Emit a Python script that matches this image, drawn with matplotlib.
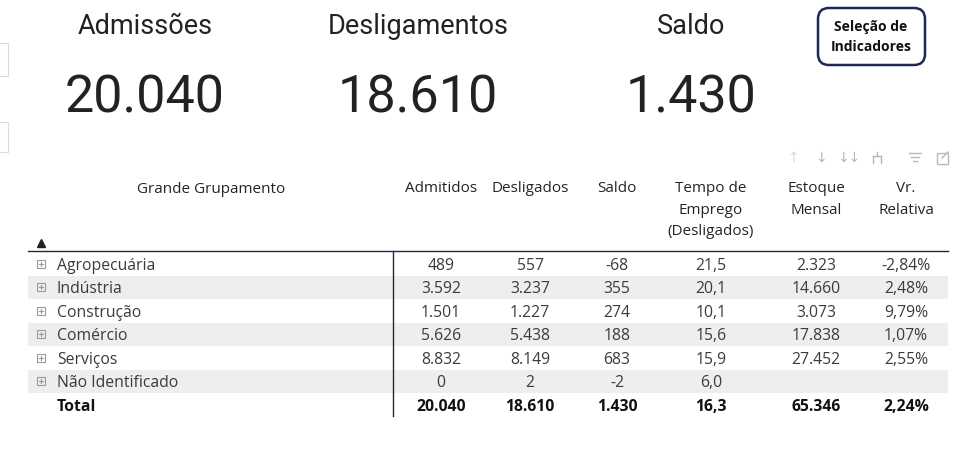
import matplotlib
matplotlib.use("Agg")
import matplotlib.pyplot as plt
import matplotlib.patches as patches

# card values
card_titles = ["Admissões", "Desligamentos", "Saldo"]
card_values = [20040, 18610, 1430]

# table data
categories = ["Agropecuária", "Indústria", "Construção", "Comércio", "Serviços", "Não Identificado"]
admitidos = [489, 3592, 1501, 5626, 8832, 0]
desligados = [557, 3237, 1227, 5438, 8149, 2]
saldo = [-68, 355, 274, 188, 683, -2]
tempo = [21.5, 20.1, 10.1, 15.6, 15.9, 6.0]
estoque = [2323, 14660, 3073, 17838, 27452, None]
vr_relativa = [-2.84, 2.48, 9.79, 1.07, 2.55, None]
totals = [20040, 18610, 1430, 16.3, 65346, 2.24]
headers = ["Admitidos", "Desligados", "Saldo", "Tempo de\nEmprego\n(Desligados)", "Estoque\nMensal", "Vr.\nRelativa"]


def fmt_int(v):
    if v is None:
        return ""
    return f"{v:,}".replace(",", ".")


def fmt_dec(v):
    if v is None:
        return ""
    return f"{v:.1f}".replace(".", ",")


def fmt_pct(v):
    if v is None:
        return ""
    return f"{v:.2f}".replace(".", ",") + "%"


W, H = 973, 461
fig = plt.figure(figsize=(W / 100, H / 100), dpi=100)
ax = fig.add_axes([0, 0, 1, 1])
ax.set_xlim(0, W)
ax.set_ylim(H, 0)
ax.axis("off")

card_font = ["Roboto", "DejaVu Sans"]
tab_font = ["Open Sans", "DejaVu Sans"]
txt_col = "#252423"
val_col = "#3b3b3b"
navy = "#1f2850"

# left slicer fragments
for y0, y1 in [(43, 76), (122, 152)]:
    ax.add_patch(patches.Rectangle((-4, y0), 12, y1 - y0, fill=False, ec="#dcdcdc", lw=0.8))

# cards
card_x = [145, 418, 691]
for x, t, v in zip(card_x, card_titles, card_values):
    ax.text(x, 26, t, ha="center", va="center", fontsize=19.5, family=card_font, color="#222222")
    ax.text(x, 98, fmt_int(v), ha="center", va="center", fontsize=37.5, family=card_font, color="#222222")

# button
btn = patches.FancyBboxPatch((818, 8), 107, 57, boxstyle="round,pad=0,rounding_size=11",
                             fc="white", ec=navy, lw=1.8)
ax.add_patch(btn)
ax.text(871, 27, "Seleção de", ha="center", va="center", fontsize=10, weight="bold",
        family=tab_font, color="#111111")
ax.text(871, 47, "Indicadores", ha="center", va="center", fontsize=10, weight="bold",
        family=tab_font, color="#111111")

# visual header icons
ic = "#b8b8b8"
ax.text(793, 158, "↑", ha="center", va="center", fontsize=10, color="#d6d6d6", family="DejaVu Sans")
ax.text(821, 158, "↓", ha="center", va="center", fontsize=10, color=ic, family="DejaVu Sans")
ax.text(849, 158, "↓↓", ha="center", va="center", fontsize=10, color=ic, family="DejaVu Sans")
ax.plot([877, 877], [152, 156], color=ic, lw=1)
ax.plot([873, 881], [156, 156], color=ic, lw=1)
ax.plot([873, 873], [156, 163], color=ic, lw=1)
ax.plot([881, 881], [156, 163], color=ic, lw=1)
for i, half in enumerate([6, 4, 2]):
    ax.plot([915 - half, 915 + half], [153 + i * 4, 153 + i * 4], color=ic, lw=1)
ax.add_patch(patches.Rectangle((937, 153), 11, 11, fill=False, ec=ic, lw=1))
ax.plot([942, 948], [158, 152], color=ic, lw=1)

# table headers
col_x = [441, 530, 617, 711, 816, 906]
ax.text(211, 189, "Grande Grupamento", ha="center", va="center", fontsize=11, family=tab_font, color=txt_col)
for x, h in zip(col_x, headers):
    ax.text(x, 181, h, ha="center", va="top", fontsize=11, family=tab_font, color=txt_col,
            linespacing=1.6)
ax.plot([41], [243], marker="^", ms=5.5, color="#222222")

left, right = 28, 948
row_top = 252
row_h = 23.5
ax.plot([left, right], [251, 251], color=navy, lw=1)

cols = [admitidos, desligados, saldo, tempo, estoque, vr_relativa]
fmts = [fmt_int, fmt_int, fmt_int, fmt_dec, fmt_int, fmt_pct]
for i, cat in enumerate(categories):
    y0 = row_top + i * row_h
    yc = y0 + row_h / 2
    ty = yc + 2
    if i % 2 == 1:
        ax.add_patch(patches.Rectangle((left, y0), right - left, row_h, fc="#eeeeee", ec="none"))
    ax.add_patch(patches.Rectangle((37, yc - 4), 8, 8, fill=False, ec="#9a9a9a", lw=0.8))
    ax.plot([39, 43], [yc, yc], color="#9a9a9a", lw=0.8)
    ax.plot([41, 41], [yc - 2, yc + 2], color="#9a9a9a", lw=0.8)
    ax.text(57, ty, cat, ha="left", va="center", fontsize=11.3, family=tab_font, color=val_col)
    for x, col, f in zip(col_x, cols, fmts):
        ax.text(x, ty, f(col[i]), ha="center", va="center", fontsize=11.3, family=tab_font, color=val_col)

yt = row_top + len(categories) * row_h + row_h / 2 + 2
ax.text(57, yt, "Total", ha="left", va="center", fontsize=11.3, weight="bold", family=tab_font, color="#111111")
for x, v, f in zip(col_x, totals, fmts):
    ax.text(x, yt, f(v), ha="center", va="center", fontsize=11.3, weight="bold", family=tab_font, color="#111111")

ax.plot([393, 393], [251, 416], color=navy, lw=1)

fig.savefig("out.png", dpi=100)
